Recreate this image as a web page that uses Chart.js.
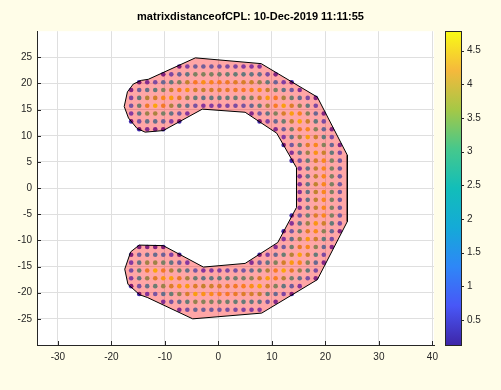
<!DOCTYPE html>
<html>
<head>
<meta charset="utf-8">
<script src="https://cdn.jsdelivr.net/npm/chart.js@4"></script>
<style>
html, body { margin:0; padding:0; background:#fffde8; }
canvas { display:block; }
</style>
</head>
<body>
<canvas id="c" width="501" height="390"></canvas>
<script>
const titleText = 'matrixdistanceofCPL: 10-Dec-2019 11:11:55'

// CPL outline
const polyX = [-17.6,-17.0,-15.9,-14.4,-13.1,-4.3,8.0,18.5,24.1,24.1,18.5,8.1,-4.8,-13.3,-14.7,-16.9,-17.5,-16.4,-14.8,-10.3,-2.8,5.0,11.1,14.6,14.6,10.9,5.0,-3.0,-10.3,-13.7,-15.2,-16.8]
const polyY = [15.6,18.4,19.9,20.6,20.8,24.9,23.8,17.4,6.3,-6.4,-17.5,-23.9,-25.0,-20.9,-20.4,-18.4,-15.5,-12.2,-10.9,-11.0,-15.1,-14.4,-10.4,-3.7,3.9,10.5,14.5,15.1,11.0,10.7,11.4,13.4]

// grid of sample points, one run of dots per entry
const gridStep = 1.5
const segY = [23.25,21.75,20.25,18.75,17.25,15.75,14.25,14.25,12.75,12.75,11.25,11.25,9.75,8.25,6.75,5.25,3.75,2.25,0.75,-0.75,-2.25,-3.75,-5.25,-6.75,-8.25,-9.75,-11.25,-11.25,-12.75,-12.75,-14.25,-14.25,-15.75,-17.25,-18.75,-20.25,-21.75,-23.25]
const segX0 = [-7.3,-10.3,-14.8,-16.3,-16.3,-16.3,-16.3,6.2,-16.3,7.7,-14.8,10.7,12.2,12.2,13.7,13.7,15.2,15.2,15.2,15.2,15.2,15.2,13.7,13.7,12.2,12.2,-14.8,10.7,-16.3,7.7,-16.3,6.2,-16.3,-16.3,-16.3,-14.8,-10.3,-7.3]
const segVal = [
	[0.2,0.9,1.5,1.5,1.4,1.2,1.1,1.0,0.8,0.7,0.6],
	[0.3,1.0,1.6,2.2,2.9,3.0,2.9,2.7,2.6,2.5,2.3,2.2,1.9,1.1,0.35],
	[0.15,0.5,1.05,1.7,2.3,2.95,3.6,4.2,4.5,4.35,4.25,4.1,3.95,3.85,3.7,3.2,2.4,1.6,0.85,0.05],
	[0.35,1.5,2.0,2.4,3.0,3.7,4.3,4.55,3.8,3.65,3.8,3.9,4.0,4.1,4.2,4.4,4.45,3.7,2.9,2.1,1.35,0.55],
	[0.9,2.4,3.5,3.8,4.4,4.7,4.0,3.25,2.5,2.15,2.3,2.4,2.5,2.6,2.75,3.0,3.8,4.65,4.2,3.4,2.65,1.85,1.05,0.3],
	[1.25,2.7,4.1,4.9,4.15,3.4,2.65,1.95,1.2,0.65,0.8,0.9,1.0,1.1,1.25,1.7,2.55,3.4,4.25,4.7,3.9,3.15,2.35,1.0],
	[0.75,2.1,3.25,3.4,2.85,2.1,1.35,0.65],
	[0.45,1.3,2.15,3.0,3.85,4.7,4.35,3.05,1.7,0.35],
	[0.0,1.15,2.0,1.9,1.55,0.8,0.05],
	[0.05,0.9,1.75,2.6,3.6,4.85,3.7,2.35,1.05],
	[0.05,0.5,0.4,0.2],
	[0.5,1.5,2.8,4.1,4.4,3.05,1.7,0.35],
	[0.75,2.1,3.4,4.7,3.7,2.4,1.05],
	[0.05,1.35,2.65,3.95,4.4,3.05,1.7,0.4],
	[0.6,1.9,3.25,4.55,3.7,2.4,1.05],
	[0.0,1.2,2.5,3.85,4.4,2.9,1.4],
	[0.6,2.1,3.6,4.4,2.9,1.4],
	[0.6,2.1,3.6,4.4,2.9,1.4],
	[0.6,2.1,3.6,4.4,2.9,1.4],
	[0.6,2.1,3.6,4.4,2.9,1.4],
	[0.6,2.1,3.6,4.4,2.9,1.4],
	[0.55,2.1,3.6,4.4,2.9,1.4],
	[0.0,1.25,2.6,3.9,4.4,2.9,1.4],
	[0.6,1.95,3.25,4.6,3.75,2.45,1.1],
	[0.0,1.3,2.65,3.95,4.45,3.1,1.75,0.4],
	[0.65,2.0,3.35,4.65,3.75,2.4,1.1],
	[0.25,0.3,0.3,0.2],
	[0.5,1.4,2.7,4.0,4.4,3.1,1.75,0.4],
	[0.25,1.45,1.8,1.8,1.55,0.8,0.1],
	[0.1,0.9,1.75,2.55,3.5,4.75,3.75,2.4,1.05],
	[0.75,2.15,3.3,3.3,2.85,2.15,1.4,0.7],
	[0.55,1.35,2.15,3.0,3.8,4.65,4.4,3.05,1.75,0.4],
	[1.1,2.6,4.05,4.8,4.15,3.45,2.75,2.0,1.3,0.65,0.8,0.9,1.05,1.2,1.3,1.8,2.6,3.45,4.25,4.8,4.0,3.2,2.4,1.05],
	[0.8,2.25,3.25,3.95,4.6,4.75,4.05,3.35,2.6,2.15,2.25,2.4,2.55,2.7,2.8,3.1,3.85,4.7,4.3,3.5,2.75,1.95,1.15,0.35],
	[0.15,1.15,2.0,2.6,3.25,3.9,4.55,4.65,3.9,3.65,3.75,3.9,4.05,4.15,4.3,4.5,5.1,3.8,3.0,2.25,1.45,0.65],
	[0.05,0.6,1.25,1.9,2.55,3.2,3.85,4.7,4.55,4.45,4.3,4.2,4.05,3.9,3.8,3.65,2.5,1.75,0.95,0.2],
	[0.55,1.2,1.85,2.5,3.2,3.05,2.95,2.8,2.7,2.55,2.45,2.3,2.15,1.25,0.45],
	[0.5,1.15,1.7,1.55,1.45,1.3,1.2,1.05,0.95,0.8,0.7],
]

const xTicks = [-30,-20,-10,0,10,20,30,40]
const yTicks = [-25,-20,-15,-10,-5,0,5,10,15,20,25]
const cbTicks = [0.5,1,1.5,2,2.5,3,3.5,4,4.5]
const cMin = 0.13, cMax = 4.79

const parula = [[62,38,168],[72,87,247],[46,135,247],[20,170,215],[18,190,185],[70,200,140],[165,200,70],[245,185,60],[249,251,21]]
const cmap = v => {
	let t = Math.min(1, Math.max(0, (v - cMin) / (cMax - cMin))) * (parula.length - 1)
	const i = Math.min(parula.length - 2, Math.floor(t)), f = t - i
	const c = parula[i].map((a, k) => Math.round(a + (parula[i+1][k] - a) * f))
	return `rgb(${c[0]},${c[1]},${c[2]})`
}

const pts = [], cols = []
segY.forEach((y, k) => segVal[k].forEach((v, m) => {
	pts.push({x: segX0[k] + gridStep * m, y: y})
	cols.push(cmap(v))
}))
const poly = polyX.map((x, i) => ({x: x, y: polyY[i]}))
poly.push(poly[0])

Chart.defaults.font.family = '"Liberation Sans", Arial, Helvetica, sans-serif'
Chart.defaults.font.size = 10
Chart.defaults.color = '#262626'

// no extra room for half labels at the ends of the axes
const noPad = s => { s.paddingTop = 0; s.paddingBottom = 0; s.paddingLeft = 0; s.paddingRight = 0 }

const frame = {
	id: 'frame',
	beforeDraw: c => {
		const {ctx, chartArea: a} = c
		ctx.save()
		ctx.fillStyle = '#fffde8'
		ctx.fillRect(0, 0, c.width, c.height)
		ctx.fillStyle = '#fff'
		ctx.fillRect(a.left, a.top, a.right - a.left, a.bottom - a.top)
		ctx.restore()
	},
	afterDraw: c => {
		const {ctx, chartArea: a, scales: s} = c
		ctx.save()
		ctx.strokeStyle = '#262626'
		ctx.lineWidth = 1
		ctx.beginPath()
		xTicks.forEach(v => {
			const p = Math.round(s.x.getPixelForValue(v)) + 0.5
			ctx.moveTo(p, a.bottom); ctx.lineTo(p, a.bottom - 4)
		})
		yTicks.forEach(v => {
			const p = Math.round(s.y.getPixelForValue(v)) + 0.5
			ctx.moveTo(a.left, p); ctx.lineTo(a.left + 4, p)
		})
		ctx.stroke()

		// colorbar
		const cb = s.cb, l = a.right + 11, w = 16
		const g = ctx.createLinearGradient(0, cb.bottom, 0, cb.top)
		parula.forEach((c, i) => g.addColorStop(i / (parula.length - 1), `rgb(${c[0]},${c[1]},${c[2]})`))
		ctx.fillStyle = g
		ctx.fillRect(l, cb.top, w, cb.bottom - cb.top)
		ctx.strokeStyle = '#262626'
		ctx.strokeRect(l + 0.5, Math.round(cb.top) + 0.5, w, Math.round(cb.bottom - cb.top))
		ctx.beginPath()
		cbTicks.forEach(v => {
			const p = Math.round(cb.getPixelForValue(v)) + 0.5
			ctx.moveTo(l + w, p); ctx.lineTo(l + w + 3, p)
		})
		ctx.stroke()
		ctx.restore()
	}
}

new Chart(document.getElementById('c'), {
	type: 'scatter',
	data: {
		datasets: [
			{
				label: 'CPL',
				data: poly,
				showLine: true,
				fill: 'shape',
				backgroundColor: 'rgba(255,0,0,0.35)',
				borderColor: '#000',
				borderWidth: 1,
				pointRadius: 0,
				tension: 0,
				order: 0,
			},
			{
				label: 'distance',
				data: pts,
				pointRadius: 2.3,
				pointBorderWidth: 0,
				pointBackgroundColor: cols,
				order: 1,
			},
		]
	},
	options: {
		responsive: false,
		animation: false,
		devicePixelRatio: 1,
		events: [],
		layout: { padding: { left: 0, right: 0, top: 0, bottom: 25 } },
		plugins: {
			legend: { display: false },
			tooltip: { enabled: false },
			title: {
				display: true,
				text: titleText,
				color: '#000',
				font: { size: 11, weight: 'bold' },
				padding: { top: 10, bottom: 8 },
			},
		},
		scales: {
			x: {
				min: -33.9, max: 40.3,
				afterFit: s => { s.height = 20; noPad(s) },
				afterBuildTicks: s => { s.ticks = xTicks.map(v => ({value: v})) },
				grid: { color: '#dfdfdf', drawTicks: false },
				border: { display: true, color: '#262626' },
				ticks: { padding: 6, maxRotation: 0 },
			},
			y: {
				min: -30, max: 30,
				afterFit: s => { s.width = 37; noPad(s) },
				afterBuildTicks: s => { s.ticks = yTicks.map(v => ({value: v})) },
				grid: { color: '#dfdfdf', drawTicks: false },
				border: { display: true, color: '#262626' },
				ticks: { padding: 5 },
			},
			cb: {
				type: 'linear',
				position: 'right',
				min: cMin, max: cMax,
				afterFit: s => { s.width = 67; noPad(s) },
				afterBuildTicks: s => { s.ticks = cbTicks.map(v => ({value: v})) },
				grid: { display: false, drawTicks: false },
				border: { display: false },
				ticks: { padding: 33, callback: v => String(v) },
			},
		},
	},
	plugins: [frame],
})
</script>
</body>
</html>
